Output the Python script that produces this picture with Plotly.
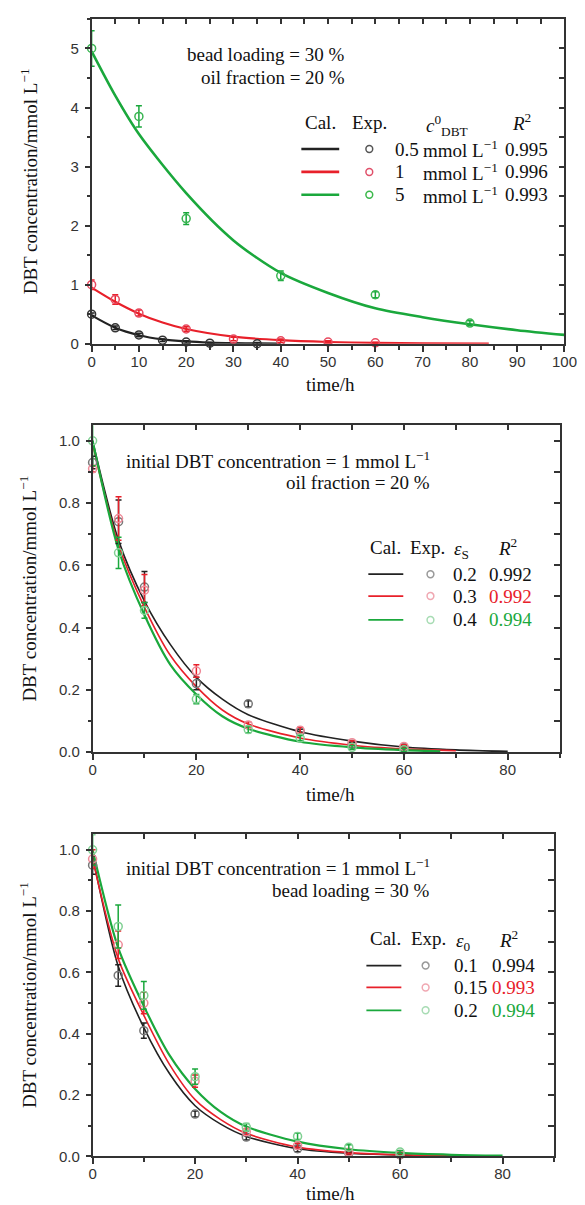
import plotly.graph_objects as go

W, H = 585, 1205

# ---------------- Panel A : initial concentration ----------------
a_exp_t_black = [0, 5, 10, 15, 20, 25, 35]
a_exp_y_black = [0.50, 0.27, 0.15, 0.06, 0.03, 0.01, 0.0]
a_exp_e_black = [0.02, 0.03, 0.03, 0.02, 0.02, 0.01, 0.02]
a_exp_t_red = [0, 5, 10, 20, 30, 40, 50, 60]
a_exp_y_red = [1.0, 0.75, 0.52, 0.25, 0.08, 0.05, 0.03, 0.015]
a_exp_e_red = [0.08, 0.08, 0.05, 0.04, 0.03, 0.03, 0.02, 0.01]
a_exp_t_green = [0, 10, 20, 40, 60, 80]
a_exp_y_green = [5.0, 3.85, 2.12, 1.15, 0.83, 0.35]
a_exp_e_green = [0.3, 0.18, 0.1, 0.08, 0.05, 0.04]

a_fit_t_black = [0, 5, 10, 15, 20, 25, 30, 35, 40]
a_fit_y_black = [0.48, 0.27, 0.145, 0.075, 0.04, 0.02, 0.01, 0.005, 0.002]
a_fit_t_red = [0, 5, 10, 15, 20, 30, 40, 50, 60, 70, 84]
a_fit_y_red = [0.95, 0.71, 0.51, 0.36, 0.25, 0.12, 0.06, 0.03, 0.015, 0.007, 0.002]
a_fit_t_green = [0, 5, 10, 20, 30, 40, 50, 60, 70, 80, 90, 100]
a_fit_y_green = [4.95, 4.2, 3.55, 2.55, 1.75, 1.2, 0.86, 0.6, 0.45, 0.33, 0.23, 0.15]

a_labels = ["0.5", "1", "5"]
a_r2 = ["0.995", "0.996", "0.993"]

# ---------------- Panel B : bead loading eps_S ----------------
b_exp_t = [0, 5, 10, 20, 30, 40, 50, 60]
b_exp_y_black = [0.93, 0.74, 0.53, 0.22, 0.155, 0.065, 0.025, 0.015]
b_exp_e_black = [0.02, 0.07, 0.05, 0.02, 0.01, 0.008, 0.006, 0.005]
b_exp_y_red = [0.91, 0.75, 0.52, 0.26, 0.087, 0.07, 0.03, 0.018]
b_exp_e_red = [0.01, 0.07, 0.05, 0.02, 0.01, 0.01, 0.006, 0.005]
b_exp_y_green = [1.0, 0.64, 0.455, 0.17, 0.072, 0.045, 0.015, 0.007]
b_exp_e_green = [0.08, 0.05, 0.025, 0.015, 0.01, 0.008, 0.006, 0.005]

b_fit_t_black = [0, 5, 10, 15, 20, 25, 30, 40, 50, 60, 70, 80]
b_fit_y_black = [1.0, 0.68, 0.485, 0.345, 0.24, 0.17, 0.12, 0.065, 0.035, 0.016, 0.007, 0.002]
b_fit_t_red = [0, 5, 10, 15, 20, 25, 30, 40, 50, 60, 70]
b_fit_y_red = [0.99, 0.665, 0.465, 0.31, 0.21, 0.135, 0.09, 0.045, 0.022, 0.01, 0.004]
b_fit_t_green = [0, 5, 10, 15, 20, 25, 30, 40, 50, 60, 67]
b_fit_y_green = [1.0, 0.65, 0.44, 0.28, 0.185, 0.115, 0.075, 0.033, 0.015, 0.006, 0.002]

b_labels = ["0.2", "0.3", "0.4"]
b_r2 = ["0.992", "0.992", "0.994"]

# ---------------- Panel C : oil fraction eps_0 ----------------
c_exp_t = [0, 5, 10, 20, 30, 40, 50, 60]
c_exp_y_black = [0.95, 0.59, 0.41, 0.138, 0.063, 0.025, 0.01, 0.005]
c_exp_e_black = [0.03, 0.035, 0.025, 0.01, 0.01, 0.01, 0.005, 0.004]
c_exp_y_red = [0.97, 0.69, 0.5, 0.245, 0.08, 0.035, 0.013, 0.006]
c_exp_e_red = [0.03, 0.045, 0.035, 0.02, 0.01, 0.008, 0.005, 0.004]
c_exp_y_green = [1.0, 0.75, 0.525, 0.26, 0.095, 0.065, 0.03, 0.014]
c_exp_e_green = [0.05, 0.07, 0.045, 0.025, 0.012, 0.01, 0.008, 0.005]

c_fit_t_black = [0, 5, 10, 15, 20, 25, 30, 40, 50, 60, 70, 75]
c_fit_y_black = [0.98, 0.62, 0.42, 0.27, 0.165, 0.105, 0.065, 0.025, 0.01, 0.004, 0.001, 0.0]
c_fit_t_red = [0, 5, 10, 15, 20, 25, 30, 40, 50, 60, 70]
c_fit_y_red = [0.97, 0.645, 0.46, 0.3, 0.185, 0.12, 0.075, 0.03, 0.012, 0.005, 0.001]
c_fit_t_green = [0, 5, 10, 15, 20, 25, 30, 40, 50, 60, 70, 80]
c_fit_y_green = [1.0, 0.68, 0.49, 0.33, 0.22, 0.145, 0.097, 0.048, 0.023, 0.011, 0.005, 0.002]

c_labels = ["0.1", "0.15", "0.2"]
c_r2 = ["0.994", "0.993", "0.994"]

# ---------------- styling ----------------
BLACK, RED, GREEN = "#222222", "#e8202a", "#1aa83c"
SERIF = "Liberation Serif, Times New Roman, serif"
SANS = "Liberation Sans, Arial, sans-serif"
AXC = "#333333"


def px(x):
    return x / W


def py(y):
    return 1 - y / H


fig = go.Figure()


def add_fit(t, y, color, width, xa, ya):
    fig.add_trace(go.Scatter(x=t, y=y, mode="lines",
                             line=dict(color=color, width=width, shape="spline", smoothing=0.8),
                             xaxis=xa, yaxis=ya, showlegend=False, hoverinfo="skip"))


def add_exp(t, y, e, mcolor, ecolor, xa, ya):
    fig.add_trace(go.Scatter(x=t, y=y, mode="markers",
                             marker=dict(symbol="circle-open", size=8, color=mcolor,
                                         line=dict(width=1.5, color=mcolor)),
                             error_y=dict(type="data", array=e, color=ecolor, thickness=1.5, width=3),
                             xaxis=xa, yaxis=ya, cliponaxis=False, showlegend=False))


# Panel A traces
add_fit(a_fit_t_black, a_fit_y_black, BLACK, 2.2, "x", "y")
add_fit(a_fit_t_red, a_fit_y_red, RED, 2.2, "x", "y")
add_fit(a_fit_t_green, a_fit_y_green, GREEN, 2.6, "x", "y")
add_exp(a_exp_t_black, a_exp_y_black, a_exp_e_black, "#333333", BLACK, "x", "y")
add_exp(a_exp_t_red, a_exp_y_red, a_exp_e_red, "#e84a5f", RED, "x", "y")
add_exp(a_exp_t_green, a_exp_y_green, a_exp_e_green, "#3ab552", GREEN, "x", "y")

# Panel B traces
add_fit(b_fit_t_black, b_fit_y_black, BLACK, 1.6, "x2", "y2")
add_fit(b_fit_t_red, b_fit_y_red, RED, 1.6, "x2", "y2")
add_fit(b_fit_t_green, b_fit_y_green, GREEN, 2.2, "x2", "y2")
add_exp(b_exp_t, b_exp_y_black, b_exp_e_black, "#777777", BLACK, "x2", "y2")
add_exp(b_exp_t, b_exp_y_red, b_exp_e_red, "#ee8a98", RED, "x2", "y2")
add_exp(b_exp_t, b_exp_y_green, b_exp_e_green, "#7fd092", GREEN, "x2", "y2")

# Panel C traces
add_fit(c_fit_t_black, c_fit_y_black, BLACK, 1.6, "x3", "y3")
add_fit(c_fit_t_red, c_fit_y_red, RED, 1.6, "x3", "y3")
add_fit(c_fit_t_green, c_fit_y_green, GREEN, 2.2, "x3", "y3")
add_exp(c_exp_t, c_exp_y_black, c_exp_e_black, "#777777", BLACK, "x3", "y3")
add_exp(c_exp_t, c_exp_y_red, c_exp_e_red, "#ee8a98", RED, "x3", "y3")
add_exp(c_exp_t, c_exp_y_green, c_exp_e_green, "#7fd092", GREEN, "x3", "y3")

# dummy traces for mirrored (inside-tick) axes
for xa, ya in [("x4", "y4"), ("x5", "y5"), ("x6", "y6")]:
    fig.add_trace(go.Scatter(x=[None], y=[None], xaxis=xa, yaxis=ya, showlegend=False, hoverinfo="skip"))

BASE = dict(showline=True, linecolor=AXC, linewidth=1.5, showgrid=False, zeroline=False,
            tickcolor=AXC, tickwidth=1.5, tickfont=dict(family=SANS, size=15, color=AXC))

panels = [
    ("xaxis", "yaxis", "xaxis4", "yaxis4", "x", "y", (82, 569), (11, 338), [0, 100], [0, 5.5], 10, 5, 1, 0.5, ""),
    ("xaxis2", "yaxis2", "xaxis5", "yaxis5", "x2", "y2", (83, 564), (420, 749), [0, 90], [0, 1.05], 20, 10, 0.2, 0.1, ".1f"),
    ("xaxis3", "yaxis3", "xaxis6", "yaxis6", "x3", "y3", (83, 558), (832, 1156), [0, 90], [0, 1.05], 20, 10, 0.2, 0.1, ".1f"),
]

layout_axes = {}
for (xn, yn, tn, rn, xid, yid, xd, yd, xr, yr, xdt, xmn, ydt, ymn, yfmt) in panels:
    layout_axes[xn] = dict(BASE, domain=[px(xd[0]), px(xd[1])], range=xr, anchor=yid,
                           dtick=xdt, tick0=0, ticks="outside", ticklen=6, ticklabelstandoff=-3,
                           minor=dict(dtick=xmn, ticks="outside", ticklen=4, tickcolor=AXC, tickwidth=1.5))
    layout_axes[yn] = dict(BASE, domain=[py(yd[1]), py(yd[0])], range=yr, anchor=xid,
                           dtick=ydt, tick0=0, ticks="outside", ticklen=5, tickformat=yfmt,
                           ticklabelstandoff=3,
                           minor=dict(dtick=ymn, ticks="outside", ticklen=3, tickcolor=AXC, tickwidth=1.5))
    layout_axes[tn] = dict(BASE, overlaying=xid, side="top", anchor=yid, range=xr,
                           dtick=xmn, tick0=0, ticks="inside", ticklen=5, showticklabels=False)
    layout_axes[rn] = dict(BASE, overlaying=yid, side="right", anchor=xid, range=yr,
                           dtick=ymn, tick0=0, ticks="inside", ticklen=6, showticklabels=False)

annotations = []
shapes = []


def text(x, y, s, xanchor="center", color="#111111", size=19, family=SERIF, angle=0):
    annotations.append(dict(x=px(x), y=py(y), xref="paper", yref="paper", text=s, showarrow=False,
                            xanchor=xanchor, yanchor="middle", textangle=angle,
                            font=dict(family=family, size=size, color=color)))


def legend_key(x0, x1, xc, y, lcolor, lwidth, ccolor):
    shapes.append(dict(type="line", xref="paper", yref="paper", x0=px(x0), x1=px(x1), y0=py(y), y1=py(y),
                       line=dict(color=lcolor, width=lwidth)))
    r = 3.5
    shapes.append(dict(type="circle", xref="paper", yref="paper", x0=px(xc - r), x1=px(xc + r),
                       y0=py(y + r), y1=py(y - r), line=dict(color=ccolor, width=1.5)))


YT = "DBT concentration/mmol L<sup>\u22121</sup>"
for yc in [175, 585, 994]:
    text(17, yc, YT, angle=-90)
for yc in [379, 792, 1193]:
    text(328, yc, "time/h")

# Panel A texts
text(345, 47, "bead loading = 30 %", xanchor="right")
text(345, 70, "oil fraction = 20 %", xanchor="right")
text(318, 115, "Cal.")
text(368, 115, "Exp.")
text(448, 118, "<i>c</i><sup>0</sup><sub>DBT</sub>")
text(525, 115, "<i>R</i><sup>2</sup>")
a_rows = [142, 165, 188]
a_cols = [(BLACK, "#555555"), (RED, "#e0506a"), (GREEN, "#3ab84a")]
for i, yy in enumerate(a_rows):
    legend_key(298, 337, 368, yy, a_cols[i][0], 2.6, a_cols[i][1])
    text(392, yy, a_labels[i], xanchor="left")
    text(421, yy, "mmol L<sup>\u22121</sup>", xanchor="left")
    text(506, yy, a_r2[i], xanchor="left")

# Panel B texts
text(433, 455, "initial DBT concentration = 1 mmol L<sup>\u22121</sup>", xanchor="right")
text(433, 478, "oil fraction = 20 %", xanchor="right")
text(385, 543, "Cal.")
text(428, 543, "Exp.")
text(463, 546, "<i>\u03b5</i><sub>S</sub>")
text(510, 543, "<i>R</i><sup>2</sup>")
b_rows = [570, 592, 616]
b_cols = [(BLACK, "#999999", "#111111"), (RED, "#f0a8b2", RED), (GREEN, "#a8dcb4", GREEN)]
for i, yy in enumerate(b_rows):
    legend_key(367, 403, 431, yy, b_cols[i][0], 1.8, b_cols[i][1])
    text(467, yy, b_labels[i])
    text(489, yy, b_r2[i], xanchor="left", color=b_cols[i][2])

# Panel C texts
text(433, 865, "initial DBT concentration = 1 mmol L<sup>\u22121</sup>", xanchor="right")
text(433, 888, "bead loading = 30 %", xanchor="right")
text(385, 937, "Cal.")
text(429, 937, "Exp.")
text(465, 940, "<i>\u03b5</i><sub>0</sub>")
text(511, 937, "<i>R</i><sup>2</sup>")
c_rows = [964, 986, 1009]
for i, yy in enumerate(c_rows):
    legend_key(365, 401, 426, yy, b_cols[i][0], 1.8, b_cols[i][1])
    text(453, yy, c_labels[i], xanchor="left")
    text(492, yy, c_r2[i], xanchor="left", color=b_cols[i][2])

fig.update_layout(width=W, height=H, autosize=False, margin=dict(l=0, r=0, t=0, b=0),
                  paper_bgcolor="white", plot_bgcolor="white", showlegend=False,
                  annotations=annotations, shapes=shapes, **layout_axes)

fig.write_html("out.html")
